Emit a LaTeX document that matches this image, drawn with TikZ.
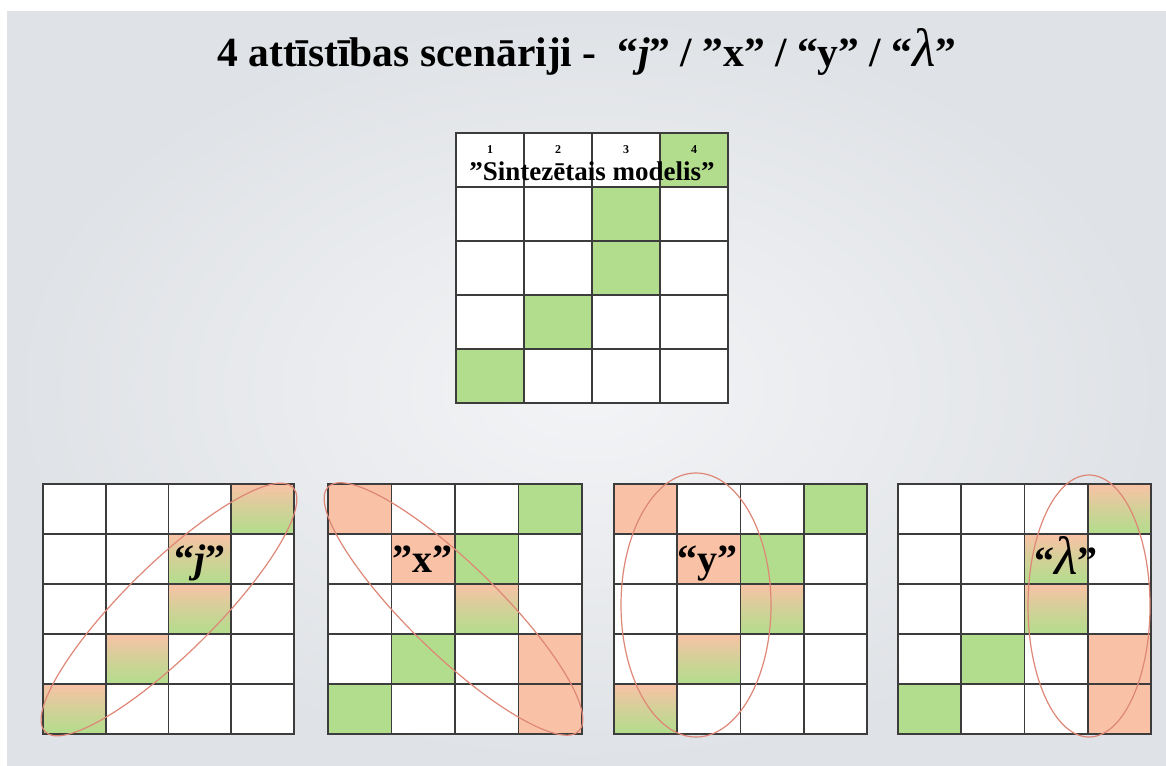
\documentclass[tikz,border=0pt]{standalone}
\usepackage{fontspec}
\setmainfont{Liberation Serif}
\usetikzlibrary{positioning}

\definecolor{zalsc}{HTML}{B2DD8C}
\definecolor{rozsc}{HTML}{F9C2A6}
\definecolor{elipsec}{HTML}{DE8777}
\definecolor{linijac}{HTML}{3C3C3C}

% viena suna un rezgis
\newcommand{\suna}[3]{\path[#3] ({(#1-1)*\cw},{(#2-1)*\ch}) rectangle ++(\cw,\ch);}
\newcommand{\rezgis}{%
  \foreach \k in {0,...,4} \draw[linija] ({\k*\cw},0) -- ({\k*\cw},{5*\ch});
  \foreach \r in {0,...,5} \draw[linija] (0,{\r*\ch}) -- ({4*\cw},{\r*\ch});}
\newcommand{\lam}{{\mdseries\itshape\fontsize{54}{54}\selectfont λ}}

\begin{document}
\begin{tikzpicture}[x=1pt,y=-1pt,
    zals/.style={fill=zalsc},
    rozs/.style={fill=rozsc},
    pareja/.style={top color=rozsc, bottom color=zalsc, middle color=zalsc!55!rozsc},
    linija/.style={draw=linijac, line width=1.6pt, line cap=rect},
    elipse/.style={draw=elipsec, line width=1.2pt},
    teksts/.style={font=\bfseries\fontsize{40}{44}\selectfont, inner sep=0pt, anchor=base},
    cipars/.style={font=\bfseries\fontsize{12}{12}\selectfont, inner sep=0pt, anchor=base}]
    \useasboundingbox (0,0) rectangle (1166,765);
    % fons
    \fill[white] (0,0) rectangle (1166,765);
    \shade[inner color={rgb,255:red,243;green,244;blue,246}, outer color={rgb,255:red,223;green,226;blue,230}] (7,12) rectangle (1166,765);

    % virsraksts
    \node[teksts, font=\bfseries\fontsize{41.5}{44}\selectfont] (nosaukums) at (587,67) {4 attīstības scenāriji -\ \ “\textit{j}” / ”x” / “y” / “\lam”};

    % sintezetais modelis
    \begin{scope}[shift={(456,133)}]
        \def\cw{68}\def\ch{54}
        \path[fill=white] (0,0) rectangle (4*\cw,5*\ch);
        \suna{4}{1}{zals} \suna{3}{2}{zals} \suna{3}{3}{zals}
        \suna{2}{4}{zals} \suna{1}{5}{zals}
        \rezgis
        \node[cipars] (n1) at (0.5*\cw,20) {1};
        \node[cipars] (n2) at (1.5*\cw,20) {2};
        \node[cipars] (n3) at (2.5*\cw,20) {3};
        \node[cipars] (n4) at (3.5*\cw,20) {4};
    \end{scope}
    \node[teksts, font=\bfseries\fontsize{27}{30}\selectfont] (modelis) at (592,180) {”Sintezētais modelis”};

    % scenarijs j
    \begin{scope}[shift={(43,484)}]
        \def\cw{62.75}\def\ch{50}
        \path[fill=white] (0,0) rectangle (4*\cw,5*\ch);
        \suna{4}{1}{pareja} \suna{3}{2}{pareja} \suna{3}{3}{pareja}
        \suna{2}{4}{pareja} \suna{1}{5}{pareja}
        \rezgis
    \end{scope}
    \node[teksts] (j) at (200,572) {“\textit{j}”};
    \coordinate (c1) at (169,609.5);
    \draw[elipse, rotate around={44.6:(c1)}] (c1) ellipse [x radius=174pt, y radius=45pt];

    % scenarijs x
    \begin{scope}[shift={(328,484)}]
        \def\cw{63.5}\def\ch{50}
        \path[fill=white] (0,0) rectangle (4*\cw,5*\ch);
        \suna{1}{1}{rozs} \suna{4}{1}{zals} \suna{2}{2}{rozs} \suna{3}{2}{zals}
        \suna{3}{3}{pareja} \suna{2}{4}{zals} \suna{4}{4}{rozs}
        \suna{1}{5}{zals} \suna{4}{5}{rozs}
        \rezgis
    \end{scope}
    \node[teksts] (x) at (422,572) {”x”};
    \coordinate (c2) at (453.5,609);
    \draw[elipse, rotate around={-44.2:(c2)}] (c2) ellipse [x radius=175pt, y radius=45pt];

    % scenarijs y
    \begin{scope}[shift={(614,484)}]
        \def\cw{63.25}\def\ch{50}
        \path[fill=white] (0,0) rectangle (4*\cw,5*\ch);
        \suna{1}{1}{rozs} \suna{4}{1}{zals} \suna{2}{2}{rozs} \suna{3}{2}{zals}
        \suna{3}{3}{pareja} \suna{2}{4}{pareja} \suna{1}{5}{pareja}
        \rezgis
    \end{scope}
    \node[teksts] (y) at (707,572) {“y”};
    \coordinate (c3) at (696,605);
    \draw[elipse] (c3) ellipse [x radius=75pt, y radius=132pt];

    % scenarijs lambda
    \begin{scope}[shift={(898,484)}]
        \def\cw{63.25}\def\ch{50}
        \path[fill=white] (0,0) rectangle (4*\cw,5*\ch);
        \suna{4}{1}{pareja} \suna{3}{2}{pareja} \suna{3}{3}{pareja}
        \suna{2}{4}{zals} \suna{4}{4}{rozs} \suna{1}{5}{zals} \suna{4}{5}{rozs}
        \rezgis
    \end{scope}
    \node[teksts] (lambda) at (1066,574) {“\lam”};
    \coordinate (c4) at (1089,606);
    \draw[elipse] (c4) ellipse [x radius=61pt, y radius=131pt];
\end{tikzpicture}
\end{document}
